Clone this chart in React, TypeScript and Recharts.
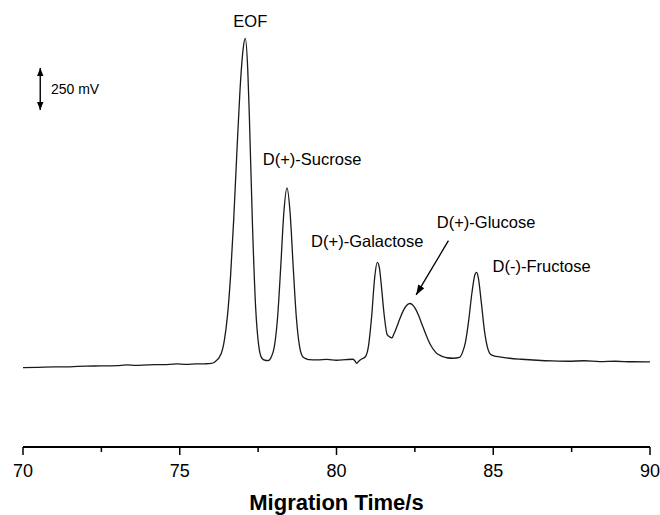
import React from 'react';
import { LineChart, Line, XAxis, YAxis, ReferenceDot, ReferenceLine } from 'recharts';

// Migration time (s)
const times: number[] = [
  70.0, 70.5, 71.0, 71.5, 72.0, 72.5, 73.0, 73.3, 73.6, 74.0, 74.5, 74.9, 75.2, 75.5, 75.8, 76.0,
  76.12, 76.32, 76.42, 76.52, 76.62, 76.72, 76.82, 76.92, 77.02, 77.09, 77.17, 77.22, 77.32, 77.42, 77.52, 77.62, 77.72, 77.82,
  77.92, 78.02, 78.12, 78.22, 78.32, 78.42, 78.52, 78.62, 78.72, 78.82, 78.92, 79.02, 79.12,
  79.4, 79.7, 80.0, 80.3, 80.52, 80.6, 80.64, 80.7, 80.8,
  80.92, 81.02, 81.12, 81.22, 81.30, 81.37, 81.42, 81.52, 81.62, 81.72, 81.77, 81.82, 81.92,
  82.02, 82.12, 82.22, 82.34, 82.42, 82.52, 82.62, 82.72, 82.82, 82.92, 83.02, 83.12, 83.22, 83.32, 83.42, 83.52, 83.72,
  83.92, 84.02, 84.12, 84.22, 84.32, 84.42, 84.47, 84.52, 84.62, 84.72, 84.82, 84.92, 85.02, 85.22, 85.52,
  85.9, 86.4, 86.9, 87.4, 87.9, 88.4, 88.9, 89.4, 90.0,
];

// Detector signal (mV, relative)
const signal: number[] = [
  -26, -24, -22, -21, -17, -16, -14, -10, -13, -9, -8, -4, -7, -4, -3, -1,
  8, 57, 134, 280, 519, 855, 1251, 1625, 1875, 1940, 1749, 1475, 824, 336, 104, 30, 18, 16,
  37, 102, 272, 572, 899, 1047, 899, 572, 272, 102, 40, 28, 22,
  20, 23, 18, 22, 24, 12, 0, 10, 25,
  39, 103, 277, 515, 602, 568, 485, 290, 169, 155, 152, 170, 216,
  266, 310, 342, 357, 350, 325, 285, 236, 187, 141, 103, 75, 55, 46, 38, 33, 30,
  35, 65, 133, 261, 421, 532, 543, 515, 362, 194, 92, 52, 44, 38, 30,
  24, 18, 14, 12, 15, 10, 12, 9, 8,
];

const xTicks: number[] = [70, 72.5, 75, 77.5, 80, 82.5, 85, 87.5, 90];

const peakLabels: { text: string; x: number; y: number; anchor: string }[] = [
  { text: 'EOF', x: 77.25, y: 2010, anchor: 'middle' },
  { text: 'D(+)-Sucrose', x: 77.65, y: 1184, anchor: 'start' },
  { text: 'D(+)-Galactose', x: 79.19, y: 693, anchor: 'start' },
  { text: 'D(+)-Glucose', x: 83.2, y: 806, anchor: 'start' },
  { text: 'D(-)-Fructose', x: 84.98, y: 547, anchor: 'start' },
];

const scaleBar = { x: 70.55, y1: 1513, y2: 1763, label: '250 mV', labelX: 70.89, labelY: 1606 };
const glucoseArrow = { x1: 83.57, y1: 732, x2: 82.54, y2: 408 };

const data = times.map((t, i) => ({ t, v: signal[i] }));

const FONT = '"Liberation Sans", Arial, Helvetica, sans-serif';

function head(x1: number, y1: number, x2: number, y2: number, len: number, w: number) {
  const dx = x2 - x1;
  const dy = y2 - y1;
  const L = Math.hypot(dx, dy) || 1;
  const ux = dx / L;
  const uy = dy / L;
  const bx = x2 - ux * len;
  const by = y2 - uy * len;
  const px = -uy;
  const py = ux;
  return `${x2},${y2} ${bx + px * w},${by + py * w} ${bx - px * w},${by - py * w}`;
}

const Tick = (props: any) => {
  const { x, y, payload } = props;
  const major = payload.value % 5 === 0;
  return (
    <g>
      <line x1={x} y1={y} x2={x} y2={y + (major ? 8 : 5)} stroke="#000" strokeWidth={1.5} />
      {major && (
        <text x={x} y={y + 30} textAnchor="middle" fontSize={18} fill="#000" fontFamily={FONT}>
          {payload.value}
        </text>
      )}
    </g>
  );
};

const ScaleBarShape = (props: any) => {
  const { x1, y1, x2, y2 } = props;
  return (
    <g>
      <line x1={x1} y1={y1} x2={x2} y2={y2} stroke="#000" strokeWidth={1.4} />
      <polygon points={head(x1, y1, x2, y2, 8, 3.2)} fill="#000" />
      <polygon points={head(x2, y2, x1, y1, 8, 3.2)} fill="#000" />
    </g>
  );
};

const ArrowShape = (props: any) => {
  const { x1, y1, x2, y2 } = props;
  return (
    <g>
      <line x1={x1} y1={y1} x2={x2} y2={y2} stroke="#000" strokeWidth={1.3} />
      <polygon points={head(x1, y1, x2, y2, 10, 3.5)} fill="#000" />
    </g>
  );
};

export default function App() {
  return (
    <div style={{ position: 'absolute', left: 0, top: 0, width: 660, height: 515, background: '#fff' }}>
      <LineChart width={660} height={515} data={data} margin={{ top: 20, right: 10, left: 23, bottom: 0 }}>
        <XAxis
          dataKey="t"
          type="number"
          domain={[70, 90]}
          ticks={xTicks}
          interval={0}
          tickSize={0}
          tickMargin={0}
          tickLine={false}
          height={68}
          axisLine={{ stroke: '#000', strokeWidth: 2 }}
          tick={<Tick />}
          allowDataOverflow
          label={{
            value: 'Migration Time/s',
            position: 'insideBottom',
            offset: 5,
            style: { fontSize: 22, fontWeight: 'bold', fill: '#000', fontFamily: FONT },
          }}
        />
        <YAxis type="number" domain={[-500, 2050]} hide width={0} allowDataOverflow />
        <Line
          type="monotone"
          dataKey="v"
          stroke="#1a1a1a"
          strokeWidth={1.3}
          dot={false}
          activeDot={false}
          isAnimationActive={false}
        />
        <ReferenceLine
          segment={[{ x: scaleBar.x, y: scaleBar.y1 }, { x: scaleBar.x, y: scaleBar.y2 }]}
          shape={<ScaleBarShape />}
        />
        <ReferenceDot
          x={scaleBar.labelX}
          y={scaleBar.labelY}
          r={0}
          shape={(p: any) => (
            <text x={p.cx} y={p.cy} fontSize={14} fill="#000" fontFamily={FONT} textAnchor="start">
              {scaleBar.label}
            </text>
          )}
        />
        <ReferenceLine
          segment={[{ x: glucoseArrow.x1, y: glucoseArrow.y1 }, { x: glucoseArrow.x2, y: glucoseArrow.y2 }]}
          shape={<ArrowShape />}
        />
        {peakLabels.map((l) => (
          <ReferenceDot
            key={l.text}
            x={l.x}
            y={l.y}
            r={0}
            shape={(p: any) => (
              <text x={p.cx} y={p.cy} fontSize={16.5} fill="#000" fontFamily={FONT} textAnchor={l.anchor}>
                {l.text}
              </text>
            )}
          />
        ))}
      </LineChart>
    </div>
  );
}
